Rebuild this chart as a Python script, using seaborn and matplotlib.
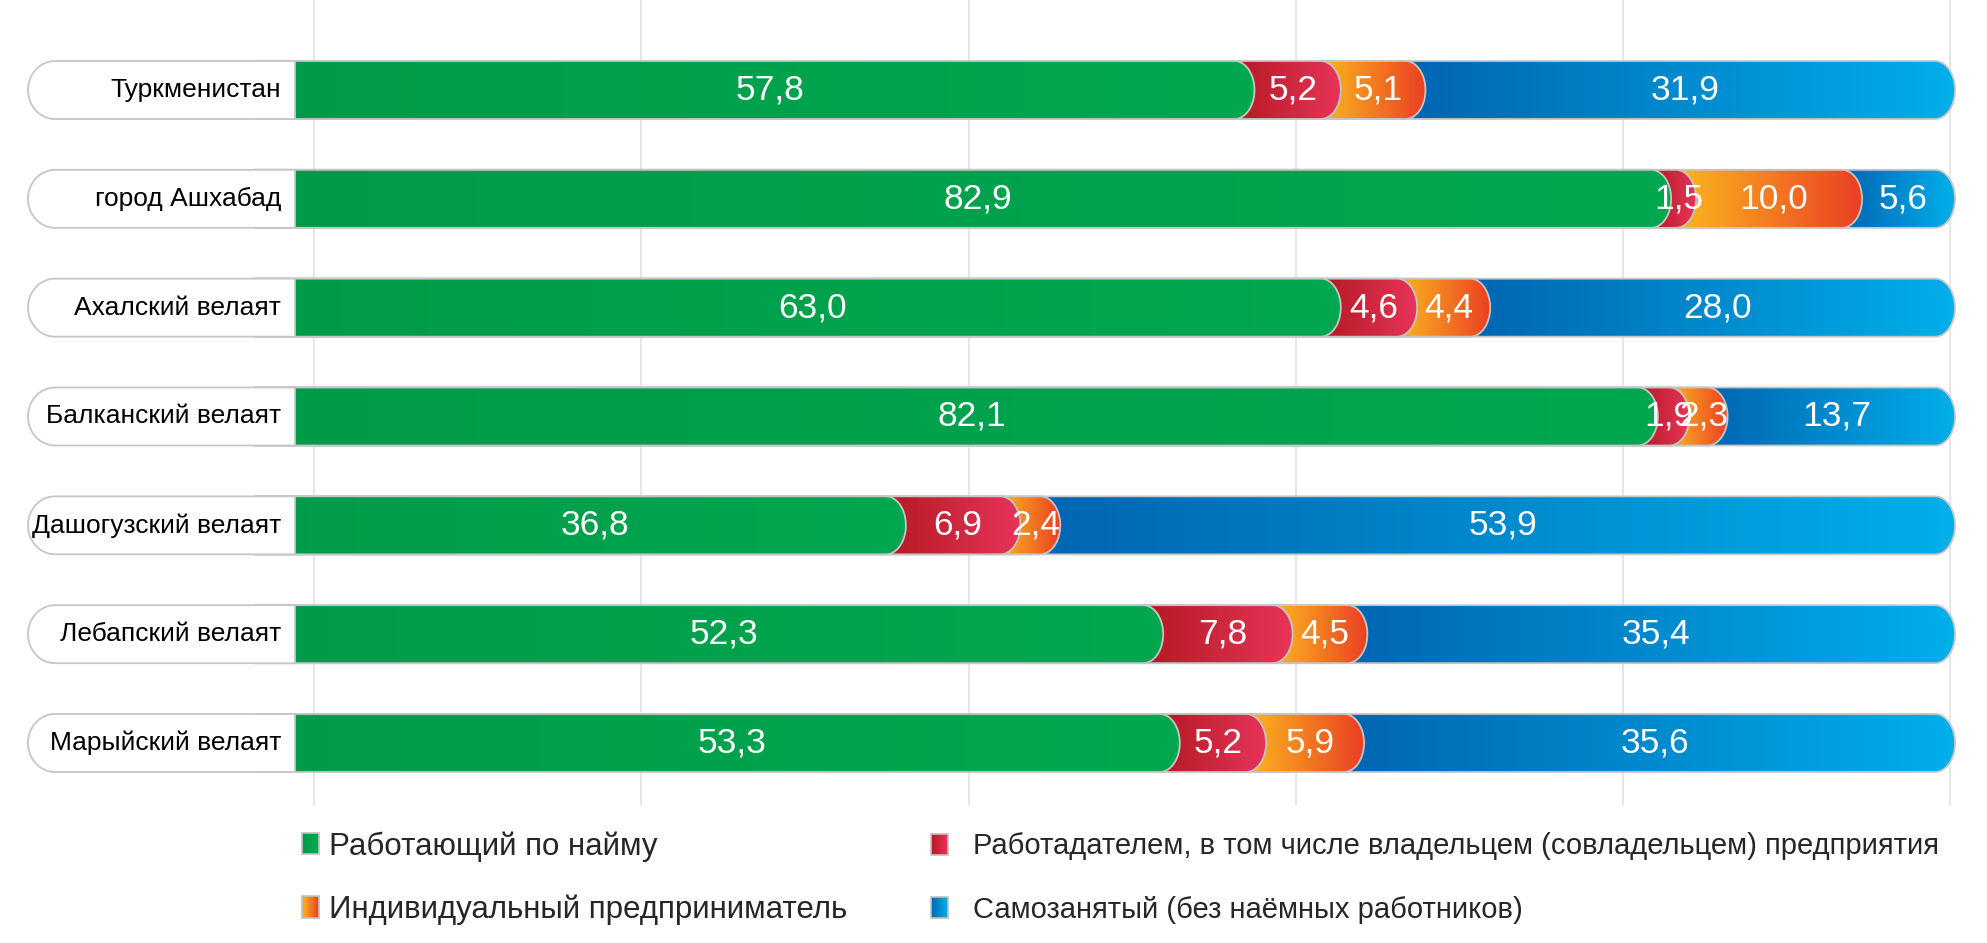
import numpy as np
import pandas as pd
import matplotlib
matplotlib.use("Agg")
import matplotlib.pyplot as plt
import seaborn as sns
from matplotlib.path import Path
from matplotlib.patches import PathPatch, Patch, Rectangle
from matplotlib.colors import LinearSegmentedColormap
from matplotlib.legend_handler import HandlerBase

# ---------------- data ----------------
regions = ["Туркменистан", "город Ашхабад", "Ахалский велаят", "Балканский велаят",
           "Дашогузский велаят", "Лебапский велаят", "Марыйский велаят"]
hired = [57.8, 82.9, 63.0, 82.1, 36.8, 52.3, 53.3]
employer = [5.2, 1.5, 4.6, 1.9, 6.9, 7.8, 5.2]
entrepreneur = [5.1, 10.0, 4.4, 2.3, 2.4, 4.5, 5.9]
self_employed = [31.9, 5.6, 28.0, 13.7, 53.9, 35.4, 35.6]

series_names = ["Работающий по найму",
                "Работадателем, в том числе владельцем (совладельцем) предприятия",
                "Индивидуальный предприниматель",
                "Самозанятый (без наёмных работников)"]
series_colors = [("#009b49", "#00a850"),
                 ("#b31a22", "#e8345a"),
                 ("#fbb81f", "#eb3f24"),
                 ("#0065b2", "#00afe9")]

# ---------------- style ----------------
sns.set_theme(style="white")
plt.rcParams["font.family"] = ["Liberation Sans", "DejaVu Sans"]

W, HPX = 1987, 943
fig = plt.figure(figsize=(W / 100, HPX / 100), dpi=100)
ax = fig.add_axes([0, 0, 1, 1])

PX = 16.6          # pixels per percent
ROW = 108.83       # pixels per row
X0PX = 295         # pixel of 0 %
x_lim = (-X0PX / PX, (W - X0PX) / PX)
y_lim = (6 + (HPX - 743) / ROW, -90 / ROW)

BAR_H = 58 / ROW
CAP = 20 / PX
LB_X0 = (28 - X0PX) / PX
LB_RX = 27 / PX
EDGE = "#c6c6c6"

df = pd.DataFrame({"region": regions, "s0": hired, "s1": employer,
                   "s2": entrepreneur, "s3": self_employed})
vals = df[["s0", "s1", "s2", "s3"]].to_numpy()
cum = np.cumsum(vals, axis=1)
for k in range(4):
    df[f"c{k}"] = cum[:, k]

cmaps = [LinearSegmentedColormap.from_list(f"g{k}", list(c)) for k, c in enumerate(series_colors)]


def bar_path(x0, x1, yc, h, rx, n=40):
    t = np.linspace(-np.pi / 2, np.pi / 2, n)
    pts = [(x0, yc - h / 2)]
    pts += list(zip(x1 - rx + rx * np.cos(t), yc + (h / 2) * np.sin(t)))
    pts += [(x0, yc + h / 2), (x0, yc - h / 2)]
    codes = [Path.MOVETO] + [Path.LINETO] * (len(pts) - 2) + [Path.CLOSEPOLY]
    return Path(pts, codes)


def label_path(x0, x1, yc, h, rx, n=40):
    t = np.linspace(np.pi / 2, 3 * np.pi / 2, n)
    pts = [(x1, yc - h / 2), (x1, yc + h / 2)]
    pts += list(zip(x0 + rx + rx * np.cos(t), yc + (h / 2) * np.sin(t)))
    pts += [(x1, yc - h / 2)]
    codes = [Path.MOVETO] + [Path.LINETO] * (len(pts) - 2) + [Path.CLOSEPOLY]
    return Path(pts, codes)


grad = np.linspace(0, 1, 256).reshape(1, -1)

# draw stacked bars as cumulative bars, back to front
for k in [3, 2, 1, 0]:
    before = len(ax.patches)
    sns.barplot(data=df, x=f"c{k}", y="region", order=regions, orient="h",
                width=BAR_H, color=series_colors[k][0], errorbar=None, ax=ax)
    new = list(ax.patches[before:])
    z = 5 - k
    for p in new:
        y0, h = p.get_y(), p.get_height()
        x1 = p.get_x() + p.get_width()
        yc = y0 + h / 2
        p.remove()
        i = int(round(yc))
        start = cum[i, k - 1] if k > 0 else 0.0
        path = bar_path(-2 * CAP, x1, yc, h, CAP)
        fill = PathPatch(path, facecolor=series_colors[k][0], edgecolor="none", zorder=z)
        ax.add_patch(fill)
        gx0 = start - CAP if k > 0 else -2 * CAP
        im = ax.imshow(grad, cmap=cmaps[k], extent=(gx0, x1, yc + h / 2, yc - h / 2),
                       aspect="auto", interpolation="bilinear", zorder=z + 0.01)
        im.set_clip_path(fill)
        ax.add_patch(PathPatch(path, facecolor="none", edgecolor=EDGE, lw=1.3, zorder=z + 0.02))

# value labels
for i in range(len(regions)):
    for k in range(4):
        start = cum[i, k - 1] if k > 0 else 0.0
        txt = f"{vals[i, k]:.1f}".replace(".", ",")
        ax.text((start + cum[i, k]) / 2 - 0.3, i, txt, ha="center", va="center",
                color="white", fontsize=25.5, zorder=20)

# region label boxes
for i, name in enumerate(regions):
    ax.add_patch(PathPatch(label_path(LB_X0, 0, i, BAR_H, LB_RX), facecolor="white",
                           edgecolor=EDGE, lw=1.3, zorder=15))
    ax.text(-0.85, i, name, ha="right", va="center", fontsize=19, color="black", zorder=16)

# gridlines
GRID_X = [1.15, 20.85, 40.6, 60.3, 80.0, 99.7]
for gx in GRID_X:
    ax.axvline(gx, ymin=1 - 805 / HPX, ymax=1, color="#e2e2e2", lw=1.2, zorder=0)

ax.set_xlim(*x_lim)
ax.set_ylim(*y_lim)
ax.axis("off")


# legend with gradient swatches
class GradPatch(Patch):
    def __init__(self, cmap, **kw):
        super().__init__(**kw)
        self.cmap = cmap


class GradHandler(HandlerBase):
    def create_artists(self, legend, orig_handle, xdescent, ydescent, width, height,
                       fontsize, trans):
        n = 14
        arts = []
        for j in range(n):
            arts.append(Rectangle((-xdescent + width * j / n, -ydescent), width / n * 1.05,
                                  height, facecolor=orig_handle.cmap((j + 0.5) / n),
                                  edgecolor="none", transform=trans))
        arts.append(Rectangle((-xdescent, -ydescent), width, height, facecolor="none",
                              edgecolor="#c0c0c0", lw=1.2, transform=trans))
        return arts


handles = [GradPatch(cmaps[k], label=series_names[k]) for k in range(4)]
common = dict(loc="center left", frameon=False, borderpad=0, borderaxespad=0,
              handler_map={GradPatch: GradHandler()})
fig.legend(handles=[handles[0], handles[2]], labels=[series_names[0], series_names[2]],
           bbox_to_anchor=(302 / W, 1 - 878 / HPX), fontsize=22.5, handlelength=0.54,
           handleheight=0.67, labelspacing=1.05, handletextpad=0.32, **common)
fig.legend(handles=[handles[1], handles[3]], labels=[series_names[1], series_names[3]],
           bbox_to_anchor=(931 / W, 1 - 878 / HPX), fontsize=21, handlelength=0.58,
           handleheight=0.72, labelspacing=1.2, handletextpad=0.86, **common)

fig.savefig("out.png", dpi=100)
